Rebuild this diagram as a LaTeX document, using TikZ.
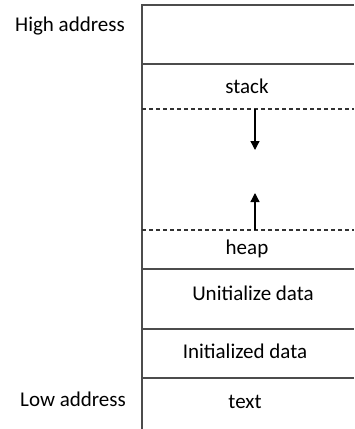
\documentclass[tikz,border=0pt]{standalone}
\usepackage{fontspec}
\setmainfont{Carlito}
\usetikzlibrary{positioning, arrows.meta}

\begin{document}
\begin{tikzpicture}[
			x=1pt, y=-1pt,
			seg/.style={
				font=\fontsize{21}{23}\selectfont,
				inner sep=0pt
			},
			wall/.style={
				draw=black!70,
				line width=1.5pt
			},
			gapline/.style={
				draw=black!80,
				line width=1.1pt,
				dash pattern=on 4pt off 3pt
			},
			growarrow/.style={
				draw=black,
				line width=1.3pt,
				-{Triangle[length=9pt,width=9pt]}
			}
			]
			\useasboundingbox (0,0) rectangle (354,429);
			
			% Memory column edges
			\coordinate (top left) at (142,5);
			\coordinate (top right) at (354,5);
			\coordinate (bottom left) at (142,429);
			
			% Boundaries between segments
			\coordinate (s1l) at (142,64);   \coordinate (s1r) at (354,64);
			\coordinate (d1l) at (142,109);  \coordinate (d1r) at (354,109);
			\coordinate (d2l) at (142,230);  \coordinate (d2r) at (354,230);
			\coordinate (s2l) at (142,269);  \coordinate (s2r) at (354,269);
			\coordinate (s3l) at (142,329);  \coordinate (s3r) at (354,329);
			\coordinate (s4l) at (142,378);  \coordinate (s4r) at (354,378);
			
			% Arrow ends
			\coordinate (down start) at (255,109);
			\coordinate (down end) at (255,150);
			\coordinate (up start) at (255,230);
			\coordinate (up end) at (255,193);
			
			% Outline
			\draw[wall] (bottom left) -- (top left) -- (top right);
			\draw[wall] (s1l) -- (s1r);
			\draw[wall] (s2l) -- (s2r);
			\draw[wall] (s3l) -- (s3r);
			\draw[wall] (s4l) -- (s4r);
			
			% Free space between stack and heap
			\draw[gapline] (d1l) -- (d1r);
			\draw[gapline] (d2l) -- (d2r);
			\draw[growarrow] (down start) -- (down end);
			\draw[growarrow] (up start) -- (up end);
			
			% Segment labels
			\node[seg] (stack) at (247,86) {stack};
			\node[seg] (heap) at (247,249) {heap};
			\node[seg] (bss) at (253,293) {Unitialize data};
			\node[seg] (data) at (245,351) {Initialized data};
			\node[seg] (text) at (245,402) {text};
			
			% Address labels
			\node[seg] (high) at (70,26) {High address};
			\node[seg] (low) at (73,399) {Low address};
			
		\end{tikzpicture}
\end{document}
